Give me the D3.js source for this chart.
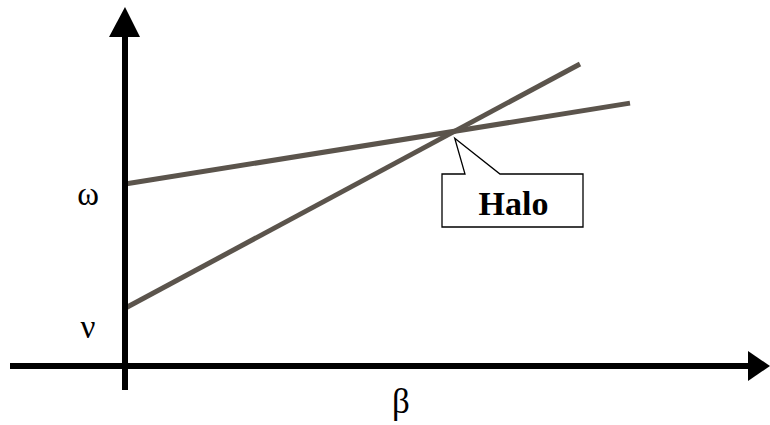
<!DOCTYPE html>
<html><head><meta charset="utf-8">
<script src="https://d3js.org/d3.v7.min.js"></script>
<style>body{margin:0;background:#fff}svg{display:block}</style>
</head><body>
<script>
// Data
const lineNames = ["ω-line", "ν-line"];
const intercepts = [5.2, 1.65];        // y at β = 0
const endPoints = [[10.1, 7.51], [9.1, 8.63]]; // [β, y] at line end
const axisLabels = { y: ["ω", "ν"], x: "β" };
const calloutText = "Halo";

const W = 770, H = 425;
const svg = d3.select("body").append("svg").attr("width", W).attr("height", H);

const x = d3.scaleLinear().domain([0, 10]).range([125, 625]);
const y = d3.scaleLinear().domain([0, 10]).range([366, 16]);

// lines
const lines = lineNames.map((n, i) => [[0, intercepts[i]], endPoints[i]]);
const gen = d3.line().x(d => x(d[0])).y(d => y(d[1]));
svg.selectAll("path.series").data(lines).enter().append("path")
  .attr("class", "series").attr("d", gen)
  .attr("fill", "none").attr("stroke", "#5b544c").attr("stroke-width", 5);

// axes
const x0 = x(0), y0 = y(0);
svg.append("line").attr("x1", x0).attr("x2", x0).attr("y1", 35).attr("y2", 390)
  .attr("stroke", "#000").attr("stroke-width", 6);
svg.append("path").attr("d", `M${x0},7 L${x0-16},37 L${x0+15},37 Z`).attr("fill", "#000");
svg.append("line").attr("x1", 10).attr("x2", 750).attr("y1", y0).attr("y2", y0)
  .attr("stroke", "#000").attr("stroke-width", 6);
svg.append("path").attr("d", `M770,${y0} L748,${y0-15} L748,${y0+15} Z`).attr("fill", "#000");

// labels
const font = "'Liberation Serif','Times New Roman',serif";
const labOff = [21, 30];
svg.selectAll("text.ylab").data(axisLabels.y).enter().append("text")
  .attr("class", "ylab")
  .attr("x", 88).attr("y", (d, i) => y(intercepts[i]) + labOff[i])
  .attr("text-anchor", "middle").attr("font-family", font).attr("font-size", 33)
  .text(d => d);
svg.append("text").attr("x", 401).attr("y", 413).attr("text-anchor", "middle")
  .attr("font-family", font).attr("font-size", 35).text(axisLabels.x);

// callout at intersection
const m = endPoints.map((p, i) => (p[1] - intercepts[i]) / p[0]);
const bx = (intercepts[1] - intercepts[0]) / (m[0] - m[1]);
const by = intercepts[0] + m[0] * bx;
const tipX = x(bx), tipY = y(by) + 7;
const bL = 442, bR = 583, bT = 174, bB = 227;
svg.append("path")
  .attr("d", `M${bL},${bT} L465,${bT} L${tipX},${tipY} L500,${bT} L${bR},${bT} L${bR},${bB} L${bL},${bB} Z`)
  .attr("fill", "#fff").attr("stroke", "#000").attr("stroke-width", 1.3);
svg.append("text").attr("x", (bL + bR) / 2 + 1).attr("y", 215).attr("text-anchor", "middle")
  .attr("font-family", font).attr("font-weight", "bold").attr("font-size", 34)
  .text(calloutText);
</script>
</body></html>
